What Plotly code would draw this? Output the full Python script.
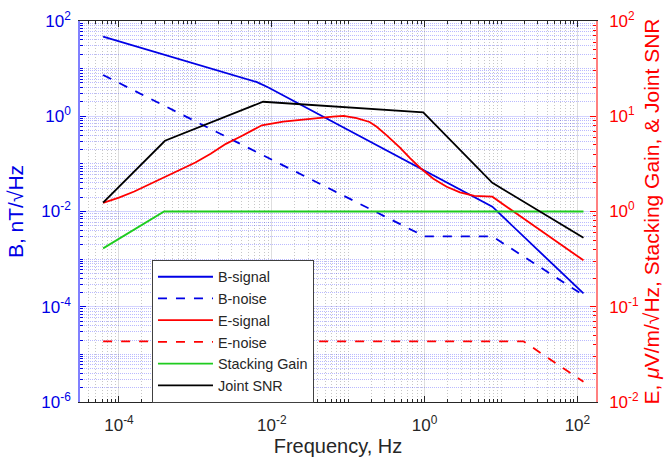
import plotly.graph_objects as go

# ---------------- data ----------------
f_bsig = [6.2e-5, 4.5e-3, 6.3e-3, 8.9e-3, 7.7, 120]
b_sig = [46.8, 6.3, 5.25, 4.07, 0.0126, 1.9e-4]

f_bnoise = [6.2e-5, 1.0, 7.7, 120]
b_noise = [7.35, 3.0e-3, 3.0e-3, 1.75e-4]

f_esig = [6.2e-5, 1.0e-4, 1.585e-4, 2.51e-4, 3.98e-4, 6.31e-4, 1.0e-3, 1.585e-3,
          2.51e-3, 3.98e-3, 5.19e-3, 7.41e-3, 1.41e-2, 3.16e-2, 6.31e-2, 8.71e-2,
          0.129, 0.1905, 0.236, 0.319, 0.476, 0.644, 0.871, 1.30, 1.945, 2.90,
          4.47, 7.7, 120]
e_sig = [1.23, 1.396, 1.622, 1.928, 2.29, 2.72, 3.27, 4.03,
         5.13, 6.17, 6.92, 8.04, 8.77, 9.44, 9.89, 10.07,
         9.55, 8.71, 7.76, 6.31, 4.68, 3.63, 2.88, 2.21, 1.82, 1.585,
         1.46, 1.43, 0.307]

f_enoise = [6.2e-5, 19.6, 120]
e_noise = [0.0434, 0.0434, 0.0163]

f_stack = [6.2e-5, 3.9e-4, 120]
stack_gain = [0.41, 1.0, 1.0]

f_snr = [6.2e-5, 4.0e-4, 7.7e-3, 0.96, 7.7, 120]
joint_snr = [1.24, 5.53, 14.2, 11.0, 2.0, 0.53]

x_tickvals = [1e-4, 1e-2, 1e0, 1e2]
x_ticktext = ["10<sup>-4</sup>", "10<sup>-2</sup>", "10<sup>0</sup>", "10<sup>2</sup>"]
yl_tickvals = [1e-6, 1e-4, 1e-2, 1e0, 1e2]
yl_ticktext = ["10<sup>-6</sup>", "10<sup>-4</sup>", "10<sup>-2</sup>", "10<sup>0</sup>", "10<sup>2</sup>"]
yr_tickvals = [1e-2, 1e-1, 1e0, 1e1, 1e2]
yr_ticktext = ["10<sup>-2</sup>", "10<sup>-1</sup>", "10<sup>0</sup>", "10<sup>1</sup>", "10<sup>2</sup>"]


def minor_vals(lo_exp, hi_exp, majors):
    vals = []
    for e in range(lo_exp, hi_exp + 1):
        for k in range(1, 10):
            v = k * 10.0 ** e
            if not any(abs(v - m) / m < 1e-9 for m in majors):
                vals.append(v)
    return vals


x_minor = minor_vals(-5, 2, x_tickvals)
yl_minor = minor_vals(-6, 1, yl_tickvals)
yr_minor = minor_vals(-2, 1, yr_tickvals)

BLUE = "#0000e6"
RED = "#ff0000"
GREEN = "#1fcc1f"
DARK = "#262626"
LW = 1.8

fig = go.Figure()
fig.add_trace(go.Scatter(x=f_bsig, y=b_sig, mode="lines", name="B-signal",
                         line=dict(color=BLUE, width=LW)))
fig.add_trace(go.Scatter(x=f_bnoise, y=b_noise, mode="lines", name="B-noise",
                         line=dict(color=BLUE, width=LW, dash="dash")))
fig.add_trace(go.Scatter(x=f_esig, y=e_sig, mode="lines", name="E-signal", yaxis="y2",
                         line=dict(color=RED, width=LW)))
fig.add_trace(go.Scatter(x=f_enoise, y=e_noise, mode="lines", name="E-noise", yaxis="y2",
                         line=dict(color=RED, width=LW, dash="dash")))
fig.add_trace(go.Scatter(x=f_stack, y=stack_gain, mode="lines", name="Stacking Gain", yaxis="y2",
                         line=dict(color=GREEN, width=LW)))
fig.add_trace(go.Scatter(x=f_snr, y=joint_snr, mode="lines", name="Joint SNR", yaxis="y2",
                         line=dict(color="black", width=LW)))

fig.update_layout(
    width=670, height=464,
    margin=dict(l=80, r=74, t=21, b=62, autoexpand=False),
    paper_bgcolor="white", plot_bgcolor="white",
    font=dict(family="Liberation Sans, Arial, sans-serif", size=17, color=DARK),
    legend=dict(x=0.1395, y=0.373, xanchor="left", yanchor="top",
                bgcolor="white", bordercolor="#404040", borderwidth=1,
                font=dict(size=14.4, color=DARK), itemwidth=55, tracegroupgap=0),
    xaxis=dict(
        type="log", range=[-4.51, 2.243], automargin=False,
        tickmode="array", tickvals=x_tickvals, ticktext=x_ticktext,
        ticks="inside", ticklen=6, tickcolor=DARK, tickfont=dict(size=17, color=DARK),
        ticklabelstandoff=8,
        showline=True, linecolor=DARK, linewidth=1, mirror="ticks",
        showgrid=True, gridcolor="rgba(0,0,0,0.13)", gridwidth=1,
        minor=dict(tickmode="array", tickvals=x_minor, ticks="inside", ticklen=3,
                   tickcolor=DARK, showgrid=True, gridcolor="rgba(0,0,0,0.22)",
                   griddash="1px,2px"),
        title=dict(text="Frequency, Hz", font=dict(size=20, color=DARK), standoff=0),
        zeroline=False,
    ),
    yaxis=dict(
        type="log", range=[-6, 2], automargin=False,
        tickmode="array", tickvals=yl_tickvals, ticktext=yl_ticktext,
        ticks="inside", ticklen=6, tickcolor=BLUE, tickfont=dict(size=17, color=BLUE),
        ticklabelstandoff=4,
        showline=True, linecolor="#8080ff", linewidth=1.5,
        showgrid=True, gridcolor="rgba(40,40,255,0.2)", gridwidth=1,
        minor=dict(tickmode="array", tickvals=yl_minor, ticks="inside", ticklen=3,
                   tickcolor=BLUE, showgrid=True, gridcolor="rgba(40,40,255,0.32)",
                   griddash="1px,1px"),
        title=dict(text="B, nT/√Hz", font=dict(size=21, color=BLUE), standoff=12),
        zeroline=False,
    ),
    yaxis2=dict(
        type="log", range=[-2, 2], overlaying="y", side="right", automargin=False,
        tickmode="array", tickvals=yr_tickvals, ticktext=yr_ticktext,
        ticks="inside", ticklen=6, tickcolor=RED, tickfont=dict(size=17, color=RED),
        ticklabelstandoff=8,
        showline=True, linecolor="#ff8080", linewidth=1.5,
        showgrid=False,
        minor=dict(tickmode="array", tickvals=yr_minor, ticks="inside", ticklen=3,
                   tickcolor=RED, showgrid=False),
        title=dict(text="E, <i>μ</i>V/m/√Hz, Stacking Gain, & Joint SNR",
                   font=dict(size=21, color=RED), standoff=6),
        zeroline=False,
    ),
)

fig.write_html("out.html")
